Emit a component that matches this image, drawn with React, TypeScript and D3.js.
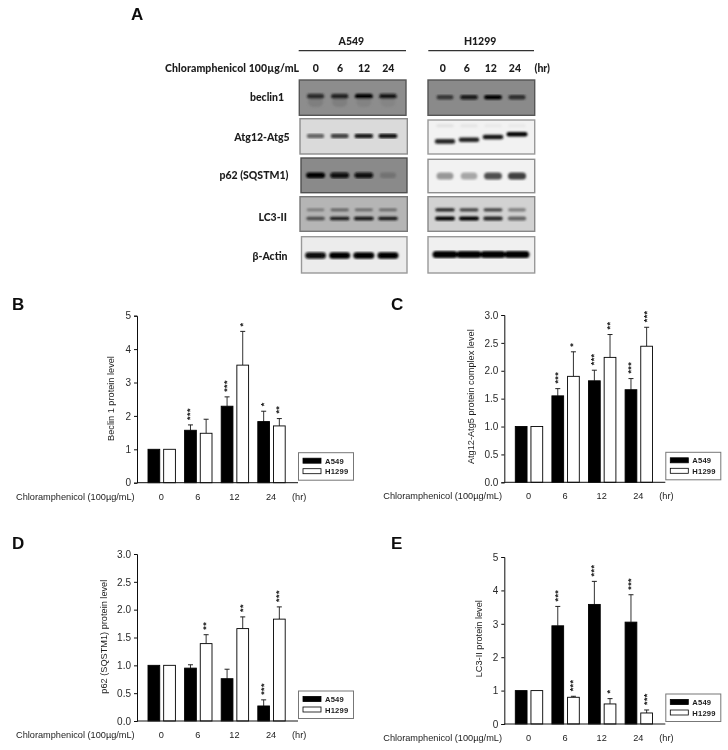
import { useEffect, useRef } from 'react';
import * as d3 from 'd3';

/* ── Blot data: band darkness per lane, read by eye ── */
const timeLabels = ['0', '6', '12', '24'];
const rowNames = ['beclin1', 'Atg12-Atg5', 'p62 (SQSTM1)', 'LC3-II', 'β-Actin'];

const beclinA = [0.72, 0.78, 0.98, 0.85];
const beclinSmearA = [0.1, 0.1, 0.07, 0.06];
const beclinH = [0.62, 0.88, 1, 0.72];
const atgA = [0.55, 0.72, 0.9, 0.95];
const atgH = [0.85, 0.88, 0.92, 1];
const atgFaintH = [0.07, 0.06, 0.04, 0.04];
const p62A = [1, 0.95, 0.92, 0.18];
const p62H = [0.38, 0.32, 0.68, 0.75];
const lc3UpperA = [0.35, 0.5, 0.45, 0.45];
const lc3LowerA = [0.6, 0.88, 0.95, 0.9];
const lc3UpperH = [0.85, 0.7, 0.7, 0.42];
const lc3LowerH = [1, 1, 0.85, 0.55];
const actinA = [0.95, 1, 1, 1];
const actinH = [1, 1, 1, 1];

/* ── Bar data: mean and top of error bar ── */
const beclinMeanA = [1, 1.57, 2.29, 1.83];
const beclinTopA = [1, 1.73, 2.57, 2.14];
const beclinMeanH = [1, 1.48, 3.52, 1.7];
const beclinTopH = [1, 1.9, 4.53, 1.92];
const beclinStarsA = ['', '***', '***', '*'];
const beclinStarsH = ['', '', '*', '**'];

const atgMeanA = [1, 1.55, 1.82, 1.66];
const atgTopA = [1, 1.68, 2.01, 1.86];
const atgMeanH = [1, 1.9, 2.24, 2.44];
const atgTopH = [1, 2.34, 2.65, 2.78];
const atgStarsA = ['', '***', '***', '***'];
const atgStarsH = ['', '*', '**', '***'];

const p62MeanA = [1, 0.95, 0.76, 0.27];
const p62TopA = [1, 1.01, 0.93, 0.38];
const p62MeanH = [1, 1.39, 1.66, 1.83];
const p62TopH = [1, 1.55, 1.87, 2.05];
const p62StarsA = ['', '', '', '***'];
const p62StarsH = ['', '**', '**', '***'];

const lc3MeanA = [1, 2.94, 3.58, 3.05];
const lc3TopA = [1, 3.52, 4.27, 3.87];
const lc3MeanH = [1, 0.8, 0.6, 0.33];
const lc3TopH = [1, 0.83, 0.76, 0.42];
const lc3StarsA = ['', '***', '***', '***'];
const lc3StarsH = ['', '***', '*', '***'];

const seriesNames = ['A549', 'H1299'];
const doseLabel = 'Chloramphenicol (100µg/mL)';

const ARIAL = '"Liberation Sans", Arial, sans-serif';
const BLOT_FONT = 'Lato, "Open Sans", sans-serif';
const INK = '#1c1c1c';

type Sel = d3.Selection<SVGGElement, unknown, null, undefined>;

interface BandSet { values: number[]; pos: number | number[]; h: number }
interface BlotDef {
  x0: number; x1: number; y0: number; y1: number;
  bg: string; edge: string; laneW: number; bands: BandSet[];
}

function drawBlot(g: Sel, b: BlotDef, lanes: d3.ScaleBand<string>) {
  const yRel = d3.scaleLinear().domain([0, 1]).range([b.y0, b.y1]);
  const dark = d3.scaleLinear<string>().domain([0, 1]).range([b.bg, '#030303']);
  g.append('rect').attr('x', b.x0).attr('y', b.y0)
    .attr('width', b.x1 - b.x0).attr('height', b.y1 - b.y0)
    .attr('fill', b.bg).attr('stroke', b.edge).attr('stroke-width', 1.4);
  const inner = g.append('g').attr('filter', 'url(#bandBlur)');
  b.bands.forEach(set => {
    set.values.forEach((v, i) => {
      const p = Array.isArray(set.pos) ? set.pos[i] : set.pos;
      const cx = (lanes(timeLabels[i]) ?? 0) + lanes.bandwidth() / 2;
      const w = b.laneW * (0.82 + 0.18 * v);
      inner.append('rect')
        .attr('x', cx - w / 2)
        .attr('y', yRel(p) - set.h / 2)
        .attr('width', w)
        .attr('height', set.h)
        .attr('rx', set.h / 2)
        .attr('fill', dark(v));
    });
  });
}

interface PanelDef {
  letter: string; letterX: number; letterY: number;
  axisX: number; yTop: number; yBottom: number;
  yMax: number; ticks: number[]; tickFmt: string;
  yTitle: string; yTitleX: number; yTitleY: number;
  meanA: number[]; topA: number[]; starsA: string[];
  meanH: number[]; topH: number[]; starsH: string[];
}

function drawPanel(g: Sel, p: PanelDef) {
  const xEnd = p.axisX + 161;
  const y = d3.scaleLinear().domain([0, p.yMax]).range([p.yBottom, p.yTop]);
  const x = d3.scaleBand<string>().domain(timeLabels)
    .range([p.axisX + 6.4, p.axisX + 152.8]).paddingInner(0).paddingOuter(0);
  const inner = d3.scaleBand<string>().domain(seriesNames)
    .range([4.6, x.bandwidth() - 4.6]).paddingInner(0.25);

  g.append('text').attr('x', p.letterX).attr('y', p.letterY)
    .attr('font-family', ARIAL).attr('font-weight', 700).attr('font-size', 17)
    .attr('fill', '#111').text(p.letter);

  // Bars, whiskers and stars
  const series = [
    { name: seriesNames[0], mean: p.meanA, top: p.topA, stars: p.starsA, fill: '#000' },
    { name: seriesNames[1], mean: p.meanH, top: p.topH, stars: p.starsH, fill: '#fff' },
  ];
  series.forEach(s => {
    timeLabels.forEach((t, i) => {
      const bx = (x(t) ?? 0) + (inner(s.name) ?? 0);
      const bw = inner.bandwidth();
      const cx = bx + bw / 2;
      if (s.top[i] > s.mean[i]) {
        g.append('line').attr('x1', cx).attr('x2', cx)
          .attr('y1', y(s.mean[i])).attr('y2', y(s.top[i]))
          .attr('stroke', '#333').attr('stroke-width', 1);
        g.append('line').attr('x1', cx - 2.5).attr('x2', cx + 2.5)
          .attr('y1', y(s.top[i])).attr('y2', y(s.top[i]))
          .attr('stroke', '#222').attr('stroke-width', 1);
      }
      g.append('rect').attr('x', bx).attr('y', y(s.mean[i]))
        .attr('width', bw).attr('height', p.yBottom - y(s.mean[i]))
        .attr('fill', s.fill).attr('stroke', '#000').attr('stroke-width', 0.9);
      if (s.stars[i]) {
        const sy = y(s.top[i]) - 5;
        g.append('text')
          .attr('transform', `translate(${cx + 3},${sy}) rotate(-90)`)
          .attr('font-family', ARIAL).attr('font-size', 9).attr('font-weight', 700)
          .attr('fill', '#222').attr('letter-spacing', 0.4)
          .text(s.stars[i]);
      }
    });
  });

  // Axes
  const axis = g.append('g').attr('transform', `translate(${p.axisX},0)`)
    .call(d3.axisLeft(y).tickValues(p.ticks).tickFormat(d3.format(p.tickFmt) as any).tickSize(3).tickPadding(3));
  axis.select('.domain').attr('stroke', '#111');
  axis.selectAll('.tick line').attr('stroke', '#111');
  axis.selectAll('text').attr('font-family', ARIAL).attr('font-size', 10).attr('fill', '#2a2a2a');
  g.append('line').attr('x1', p.axisX).attr('x2', xEnd)
    .attr('y1', p.yBottom).attr('y2', p.yBottom).attr('stroke', '#111');

  g.append('text')
    .attr('transform', `translate(${p.yTitleX},${p.yTitleY}) rotate(-90)`)
    .attr('text-anchor', 'middle').attr('font-family', ARIAL).attr('font-size', 9.2)
    .attr('fill', INK).text(p.yTitle);

  // Bottom labels
  const labelY = p.yBottom + 17;
  g.append('text').attr('x', p.axisX - 121).attr('y', labelY)
    .attr('font-family', ARIAL).attr('font-size', 9.2).attr('fill', INK).text(doseLabel);
  timeLabels.forEach(t => {
    g.append('text').attr('x', (x(t) ?? 0) + x.bandwidth() / 2 - 0.5).attr('y', labelY)
      .attr('text-anchor', 'middle').attr('font-family', ARIAL).attr('font-size', 9.2)
      .attr('fill', INK).text(t);
  });
  g.append('text').attr('x', p.axisX + 155).attr('y', labelY)
    .attr('font-family', ARIAL).attr('font-size', 9.2).attr('fill', INK).text('(hr)');

  // Legend
  const lx = xEnd + 0.5;
  const ly = p.yBottom - 30;
  g.append('rect').attr('x', lx).attr('y', ly).attr('width', 55).attr('height', 27.5)
    .attr('fill', '#fff').attr('stroke', '#777').attr('stroke-width', 1);
  seriesNames.forEach((name, i) => {
    const rowY = ly + 8 + i * 10.5;
    g.append('rect').attr('x', lx + 4.5).attr('y', rowY - 2.5).attr('width', 18).attr('height', 5)
      .attr('fill', i === 0 ? '#000' : '#fff').attr('stroke', '#000').attr('stroke-width', 0.8);
    g.append('text').attr('x', lx + 26.5).attr('y', rowY + 3)
      .attr('font-family', ARIAL).attr('font-size', 7.6).attr('font-weight', 700)
      .attr('fill', INK).attr('letter-spacing', 0.2).text(name);
  });
}

export default function App() {
  const svgRef = useRef<SVGSVGElement>(null);

  useEffect(() => {
    const svg = d3.select(svgRef.current as SVGSVGElement);
    svg.selectAll('*').remove();

    const defs = svg.append('defs');
    defs.append('filter').attr('id', 'bandBlur')
      .attr('x', '-10%').attr('y', '-10%').attr('width', '120%').attr('height', '120%')
      .append('feGaussianBlur').attr('stdDeviation', 1.25);
    // the source figure is a soft jpeg
    defs.append('filter').attr('id', 'soft')
      .attr('filterUnits', 'userSpaceOnUse')
      .attr('x', 0).attr('y', 0).attr('width', 728).attr('height', 750)
      .append('feGaussianBlur').attr('stdDeviation', 0.3);

    const root = svg.append('g').attr('filter', 'url(#soft)') as unknown as Sel;

    // ── Panel A ──
    root.append('text').attr('x', 131).attr('y', 20)
      .attr('font-family', ARIAL).attr('font-weight', 700).attr('font-size', 17)
      .attr('fill', '#111').text('A');

    const lanesA = d3.scaleBand<string>().domain(timeLabels).range([303.5, 400]);
    const lanesH = d3.scaleBand<string>().domain(timeLabels).range([433, 529]);
    const textA = d3.scaleBand<string>().domain(timeLabels).range([303.7, 400.3]);
    const textH = d3.scaleBand<string>().domain(timeLabels).range([430.7, 527]);

    const headers = [
      { name: seriesNames[0], x0: 298.7, x1: 406, lanes: textA },
      { name: seriesNames[1], x0: 428.3, x1: 534, lanes: textH },
    ];
    headers.forEach(h => {
      root.append('text').attr('x', (h.x0 + h.x1) / 2 - 1).attr('y', 44.5).attr('text-anchor', 'middle')
        .attr('font-family', BLOT_FONT).attr('font-weight', 900).attr('font-size', 10.5).attr('fill', INK).text(h.name);
      root.append('line').attr('x1', h.x0).attr('x2', h.x1).attr('y1', 50.7).attr('y2', 50.7)
        .attr('stroke', '#333').attr('stroke-width', 1.3);
      timeLabels.forEach(t => {
        root.append('text').attr('x', (h.lanes(t) ?? 0) + h.lanes.bandwidth() / 2).attr('y', 72)
          .attr('text-anchor', 'middle').attr('font-family', BLOT_FONT).attr('font-weight', 900)
          .attr('font-size', 10.5).attr('fill', INK).text(t);
      });
    });
    root.append('text').attr('x', 165).attr('y', 72).attr('font-family', BLOT_FONT).attr('font-weight', 900)
      .attr('font-size', 10.5).attr('fill', INK).attr('textLength', 134).text('Chloramphenicol 100µg/mL');
    root.append('text').attr('x', 534.5).attr('y', 72).attr('font-family', BLOT_FONT).attr('font-weight', 900)
      .attr('font-size', 10.5).attr('fill', INK).text('(hr)');

    const labelSpots = [[267, 101], [262, 141], [254, 179], [272.7, 221], [270, 260]];
    rowNames.forEach((n, i) => {
      root.append('text').attr('x', labelSpots[i][0]).attr('y', labelSpots[i][1]).attr('text-anchor', 'middle')
        .attr('font-family', BLOT_FONT).attr('font-weight', 900).attr('font-size', 10.5).attr('fill', INK).text(n);
    });

    const blotsA: BlotDef[] = [
      { x0: 299.3, x1: 406, y0: 80, y1: 115.3, bg: '#8d8d8d', edge: '#555', laneW: 18, bands: [{ values: beclinSmearA, pos: 0.62, h: 10 }, { values: beclinA, pos: 0.46, h: 5 }] },
      { x0: 300, x1: 407.3, y0: 118.7, y1: 154, bg: '#dadada', edge: '#8c8c8c', laneW: 19, bands: [{ values: atgA, pos: 0.49, h: 4.6 }] },
      { x0: 301, x1: 407, y0: 158, y1: 192.7, bg: '#8a8a8a', edge: '#4f4f4f', laneW: 19, bands: [{ values: p62A, pos: 0.5, h: 5.6 }] },
      { x0: 300, x1: 407.3, y0: 196.7, y1: 231.3, bg: '#b5b5b5', edge: '#777', laneW: 20, bands: [{ values: lc3UpperA, pos: 0.38, h: 2.6 }, { values: lc3LowerA, pos: 0.63, h: 3.6 }] },
      { x0: 301.5, x1: 407, y0: 236.7, y1: 273, bg: '#ececec', edge: '#999', laneW: 21, bands: [{ values: actinA, pos: 0.52, h: 6.5 }] },
    ];
    const blotsH: BlotDef[] = [
      { x0: 428, x1: 534.7, y0: 80, y1: 115.3, bg: '#8a8a8a', edge: '#555', laneW: 18, bands: [{ values: beclinH, pos: 0.49, h: 4.6 }] },
      { x0: 428, x1: 534.7, y0: 120, y1: 154, bg: '#f2f2f2', edge: '#999', laneW: 21, bands: [{ values: atgFaintH, pos: 0.17, h: 3 }, { values: atgH, pos: [0.63, 0.58, 0.5, 0.42], h: 4.6 }] },
      { x0: 428, x1: 534.7, y0: 159.3, y1: 192.7, bg: '#f2f2f2', edge: '#8f8f8f', laneW: 19, bands: [{ values: p62H, pos: 0.5, h: 7 }] },
      { x0: 428, x1: 534.7, y0: 196.7, y1: 231.3, bg: '#d2d2d2', edge: '#888', laneW: 20, bands: [{ values: lc3UpperH, pos: 0.38, h: 3.4 }, { values: lc3LowerH, pos: 0.63, h: 4.2 }] },
      { x0: 428, x1: 534.7, y0: 236.7, y1: 273, bg: '#f0f0f0', edge: '#999', laneW: 25, bands: [{ values: actinH, pos: 0.49, h: 7 }] },
    ];
    blotsA.forEach(b => drawBlot(root, b, lanesA));
    blotsH.forEach(b => drawBlot(root, b, lanesH));

    // ── Bar panels ──
    const panels: PanelDef[] = [
      {
        letter: 'B', letterX: 12, letterY: 310, axisX: 137, yTop: 315.7, yBottom: 482.7,
        yMax: 5, ticks: [0, 1, 2, 3, 4, 5], tickFmt: 'd',
        yTitle: 'Beclin 1 protein level', yTitleX: 113.5, yTitleY: 398.5,
        meanA: beclinMeanA, topA: beclinTopA, starsA: beclinStarsA,
        meanH: beclinMeanH, topH: beclinTopH, starsH: beclinStarsH,
      },
      {
        letter: 'C', letterX: 391, letterY: 310, axisX: 504.3, yTop: 315, yBottom: 482.3,
        yMax: 3, ticks: [0, 0.5, 1, 1.5, 2, 2.5, 3], tickFmt: '.1f',
        yTitle: 'Atg12-Atg5 protein complex level', yTitleX: 474, yTitleY: 396.7,
        meanA: atgMeanA, topA: atgTopA, starsA: atgStarsA,
        meanH: atgMeanH, topH: atgTopH, starsH: atgStarsH,
      },
      {
        letter: 'D', letterX: 12, letterY: 548.5, axisX: 137, yTop: 554, yBottom: 721,
        yMax: 3, ticks: [0, 0.5, 1, 1.5, 2, 2.5, 3], tickFmt: '.1f',
        yTitle: 'p62 (SQSTM1) protein level', yTitleX: 107, yTitleY: 636.7,
        meanA: p62MeanA, topA: p62TopA, starsA: p62StarsA,
        meanH: p62MeanH, topH: p62TopH, starsH: p62StarsH,
      },
      {
        letter: 'E', letterX: 391, letterY: 548.5, axisX: 504.3, yTop: 557, yBottom: 724,
        yMax: 5, ticks: [0, 1, 2, 3, 4, 5], tickFmt: 'd',
        yTitle: 'LC3-II protein level', yTitleX: 482, yTitleY: 638.7,
        meanA: lc3MeanA, topA: lc3TopA, starsA: lc3StarsA,
        meanH: lc3MeanH, topH: lc3TopH, starsH: lc3StarsH,
      },
    ];
    panels.forEach(p => drawPanel(root, p));
  }, []);

  return (
    <svg
      ref={svgRef}
      width={728}
      height={750}
      style={{ position: 'absolute', left: 0, top: 0, background: '#fff', display: 'block' }}
    />
  );
}
